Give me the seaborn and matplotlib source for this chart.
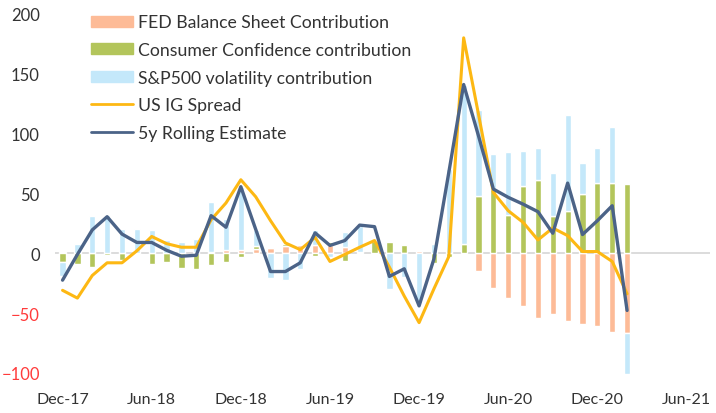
import numpy as np
import pandas as pd
import matplotlib.pyplot as plt
import seaborn as sns
from matplotlib.patches import Patch
from matplotlib.lines import Line2D

# monthly, Dec-17 .. Feb-21
fed = [1, 0.5, 0, 0, 0, 0, 0, 0, 0.5, 1, 1, 2.5, 3, 3.5, 4.5, 6, 7, 7, 7, 5,
       1, 0, 0, 0, 1.5, 0, 0, 0.5, -15, -29, -37, -44, -54, -51, -57, -59, -61, -66, -67]
conf = [-7, -9, -11.5, -1.5, -5.5, -1, -9, -7.5, -12, -13.5, -10, -7, -3.3, 2.5, 0, 2, 0, -2, 2.5, -6.7,
        0, 10.6, 9.5, 7, 0, -8, -3, 7, 48, 54, 32, 56.4, 61, 31.4, 35.6, 49.4, 58.6, 58.6, 57.8]
spx = [-12, 7, 31, 32, 20, 20, 19, 11, 9, 10.5, 41.5, 26, 52, 13, -21, -22.5, -13.5, 12, -3, 12.5,
       22, 0, -30, -20, -42, 8, 70, 133.5, 72, 29.3, 52.7, 29.2, 27.2, 35.5, 79.7, 26, 29.7, 47, -34]
ig_spread = [-31, -37.5, -18.6, -8, -8, 2, 14, 8, 5, 5, 28, 42, 61.4, 47.2, 27.2, 8.6, 3, 13.3, -6.9, -1,
             5, 10.6, -11.6, -35.8, -58, -29.7, -2.8, 180, 116, 50.8, 35.5, 25.8, 11.1, 21.1, 14.7, 1.4, 1.4, -6.9, -33.9]
rolling = [-22.5, -1, 19.5, 30.5, 16, 9, 9, 2.5, -2.5, -1.7, 31.4, 21.7, 55.6, 20, -15.3, -15.3, -8, 17, 6.5, 10.6,
           23.5, 22.2, -19.4, -13, -44, -4.7, 67.5, 141, 98, 53.6, 46.7, 41, 34.7, 16.7, 58.6, 15.6, 27.2, 39.7, -47.8]

tick_labels = ["Dec-17", "Jun-18", "Dec-18", "Jun-19", "Dec-19", "Jun-20", "Dec-20", "Jun-21"]

sns.set_theme(style="white")
plt.rcParams['font.family'] = ['Lato', 'DejaVu Sans']

c_fed = "#FDBB97"
c_conf = "#B3C55B"
c_spx = "#C4E8FA"
c_ig = "#FDB813"
c_roll = "#4B6387"

fig, ax = plt.subplots(figsize=(7.16, 4.14), dpi=100)
fig.subplots_adjust(left=0.077, right=0.992, bottom=0.094, top=0.964)

x = np.arange(len(fed))
pos = np.zeros(len(x))
neg = np.zeros(len(x))
for vals, col in [(fed, c_fed), (conf, c_conf), (spx, c_spx)]:
    v = np.array(vals, dtype=float)
    bottom = np.where(v >= 0, pos, neg)
    ax.bar(x, v, 0.42, bottom=bottom, color=col, zorder=2)
    pos += np.clip(v, 0, None)
    neg += np.clip(v, None, 0)

ax.axhline(0, color="#d9d9d9", lw=1.3, zorder=1)

df = pd.DataFrame({"x": x, "ig": ig_spread, "roll": rolling})
sns.lineplot(data=df, x="x", y="ig", color=c_ig, lw=2.2, ax=ax, zorder=3)
sns.lineplot(data=df, x="x", y="roll", color=c_roll, lw=2.4, ax=ax, zorder=4)

ax.set_xlim(-0.5, 43.6)
ax.set_ylim(-101, 200)
ax.set_xticks(np.arange(0, 43, 6))
ax.set_xticklabels(tick_labels)
ax.set_yticks(np.arange(-100, 201, 50))
ax.set_xlabel("")
ax.set_ylabel("")
ax.tick_params(axis="x", length=0, pad=13, labelsize=11.5, labelcolor="#333333")
ax.tick_params(axis="y", length=0, pad=11, labelsize=12, labelcolor="#333333")
for lab in ax.get_yticklabels():
    if lab.get_text().replace("−", "-").startswith("-"):
        lab.set_color("#FF3B3B")
sns.despine(ax=ax, left=True, bottom=True)

handles = [
    Patch(color=c_fed, label="FED Balance Sheet Contribution"),
    Patch(color=c_conf, label="Consumer Confidence contribution"),
    Patch(color=c_spx, label="S&P500 volatility contribution"),
    Line2D([], [], color=c_ig, lw=2, label="US IG Spread"),
    Line2D([], [], color=c_roll, lw=2, label="5y Rolling Estimate"),
]
ax.legend(handles=handles, loc="upper left", bbox_to_anchor=(0.117, 0.98), bbox_transform=fig.transFigure,
          frameon=False, fontsize=12.7, handlelength=2.4, handleheight=0.6, handletextpad=0.25,
          labelspacing=0.66, labelcolor="#333333", borderaxespad=0)

fig.savefig("out.png", dpi=100)
